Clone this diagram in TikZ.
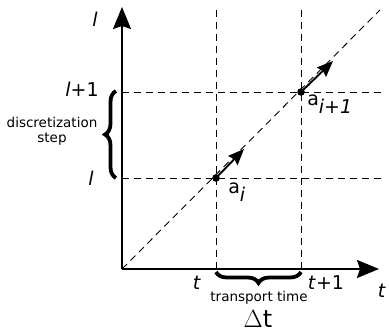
\documentclass[tikz,border=0pt]{standalone}
\usepackage{fontspec}
\setmainfont{DejaVu Sans}
\usetikzlibrary{arrows.meta, decorations.pathreplacing}

\begin{document}
\begin{tikzpicture}[x=1pt, y=1pt,
    axis/.style={line width=2pt, -{Stealth[length=22pt, width=18pt, inset=3pt]}},
    grid/.style={line width=0.9pt, dash pattern=on 7pt off 5pt},
    move/.style={line width=1.9pt, -{Stealth[length=16pt, width=13pt, inset=2pt]}},
    bracket/.style={decorate, line width=3.8pt, decoration={brace, amplitude=11pt}},
    big/.style={font=\fontsize{19}{22}\selectfont},
    small/.style={font=\fontsize{13.5}{15}\selectfont, align=center}]
  \useasboundingbox (-122,-66) rectangle (267,269);
  % axes
  \coordinate (O) at (0,0);
  \coordinate (xend) at (257,0);
  \coordinate (yend) at (0,262);
  \draw[axis] (O) -- (xend);
  \draw[axis] (O) -- (yend);
  % grid
  \coordinate (ai) at (94,91);
  \coordinate (aj) at (179,177);
  \foreach \x in {94,179}
    \draw[grid] (\x,0) -- (\x,260);
  \foreach \y in {91,177}
    \draw[grid] (0,\y) -- (260,\y);
  \coordinate (diag) at (258,259);
  \draw[grid] (O) -- (diag);
  % particles
  \coordinate (ai tip) at (122,120);
  \coordinate (aj tip) at (211,208);
  \draw[move] (ai) -- (ai tip);
  \draw[move] (aj) -- (aj tip);
  \fill (ai) circle (3.8pt);
  \fill (aj) circle (3.8pt);
  \node[font=\fontsize{19}{22}\selectfont] (lai) at (115,77) {a$_{\textit{i}}$};
  \node[font=\fontsize{19}{22}\selectfont] (laj) at (208,165) {a$_{\textit{i+1}}$};
  % braces
  \draw[bracket] (-6,91) -- (-6,178);
  \draw[bracket] (179,-3) -- (94,-3);
  \node[small] (dstep) at (-70,138) {discretization\\step};
  \node[small] (ttime) at (137,-29) {transport time};
  \node[font=\fontsize{24}{27}\selectfont] (dt) at (136,-50) {$\Delta$t};
  % labels
  \node[big] (ly) at (-27,250) {\textit{l}};
  \node[big] (lp) at (-40,180) {\textit{l}+1};
  \node[big] (l0) at (-31,91) {\textit{l}};
  \node[big] (t0) at (75,-14) {\textit{t}};
  \node[big] (tp) at (204,-14) {\textit{t}+1};
  \node[big] (tx) at (260,-22) {\textit{t}};
\end{tikzpicture}
\end{document}
